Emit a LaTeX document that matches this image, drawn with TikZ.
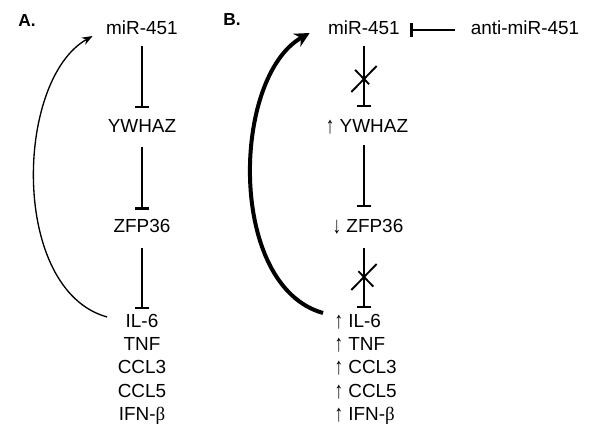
\documentclass[tikz,border=0pt]{standalone}
\usepackage{fontspec}
\setmainfont{Liberation Sans}
\newfontfamily\gregoserif{Liberation Serif}
\usetikzlibrary{arrows.meta,shapes.misc}
\newcommand{\sobe}{\smash{\raisebox{-1pt}{\scalebox{0.9}[1.25]{↑}}}}
\newcommand{\desce}{\smash{\raisebox{-1pt}{\scalebox{0.9}[1.25]{↓}}}}
\tikzset{
  gene/.style={font=\fontsize{14.2}{16}\selectfont, inner sep=1pt, text height=10pt, text depth=3pt},
  painel/.style={font=\fontsize{13}{15}\selectfont\bfseries},
  inibe/.style={line width=1.8pt, -{Bar[width=11pt,line width=1.8pt]}, shorten <=4pt, shorten >=7pt},
  bloqueio/.style={cross out, draw, line width=1.4pt, minimum width=17.5pt, minimum height=18pt, inner sep=0pt},
  retorno/.style={line width=1pt, -{Stealth[length=8pt,width=6pt]}},
  retornoforte/.style={line width=3pt, -{Stealth[length=11pt,width=11pt]}}
}
\begin{document}
\begin{tikzpicture}[x=0.75pt, y=-0.75pt]
  \useasboundingbox (0,0) rectangle (601,441);

  % Painel A
  \node[painel] (rotA) at (27,21) {A.};
  \node[gene] (mirA) at (142,30) {miR-451};
  \node[gene] (ywhazA) at (142,128) {YWHAZ};
  \node[gene] (zfpA) at (142,228) {ZFP36};
  \node[gene] (il6A) at (142,323) {IL-6};
  \node[gene] (tnfA) at (142,346) {TNF};
  \node[gene] (ccl3A) at (142,369) {CCL3};
  \node[gene] (ccl5A) at (142,393) {CCL5};
  \node[gene] (ifnA) at (142,416) {IFN-{\gregoserif β}};

  % Inibicoes em A
  \draw[inibe] (mirA.south) -- (ywhazA.north);
  \draw[inibe, shorten <=6.5pt, shorten >=6pt] (ywhazA.south) -- (zfpA.north);
  \draw[inibe, shorten <=7.5pt, shorten >=2.5pt] (zfpA.south) -- (il6A.north);

  % Retorno de IL-6 para miR-451
  \draw[retorno] ([shift={(-17,-6)}]il6A.west) .. controls +(-97,-27) and +(-78,44) .. ([shift={(-12,6)}]mirA.west);

  % Painel B
  \node[painel] (rotB) at (232,20) {B.};
  \node[gene] (mirB) at (364,30) {miR-451};
  \node[gene] (antiB) at (525,30) {anti-miR-451};
  \node[gene] (ywhazB) at (367,128) {\sobe\ YWHAZ};
  \node[gene] (zfpB) at (368,228) {\desce\ ZFP36};
  \node[gene, anchor=west] (il6B) at (333,323) {\sobe\ IL-6};
  \node[gene, anchor=west] (tnfB) at (333,346) {\sobe\ TNF};
  \node[gene, anchor=west] (ccl3B) at (333,369) {\sobe\ CCL3};
  \node[gene, anchor=west] (ccl5B) at (333,393) {\sobe\ CCL5};
  \node[gene, anchor=west] (ifnB) at (333,416) {\sobe\ IFN-{\gregoserif β}};

  % Inibicoes em B, duas bloqueadas
  \draw[inibe, line width=2.2pt, shorten <=10.5pt, shorten >=6.75pt] (antiB.west) -- (mirB.east);
  \draw[inibe, shorten >=8pt] (mirB.south) -- (mirB.south |- ywhazB.north) node[bloqueio, midway] (xB1) {};
  \draw[inibe, shorten <=5pt, shorten >=8pt] (mirB |- ywhazB.south) -- (mirB |- zfpB.north);
  \draw[inibe, shorten <=7.5pt, shorten >=3.5pt] (mirB |- zfpB.south) -- (mirB |- il6B.north) node[bloqueio, pos=0.52] (xB2) {};

  % Retorno reforcado
  \draw[retornoforte] ([shift={(-10,-10)}]il6B.west) .. controls +(-96,-27) and +(-78,44) .. ([shift={(-17,3)}]mirB.west);
\end{tikzpicture}
\end{document}
